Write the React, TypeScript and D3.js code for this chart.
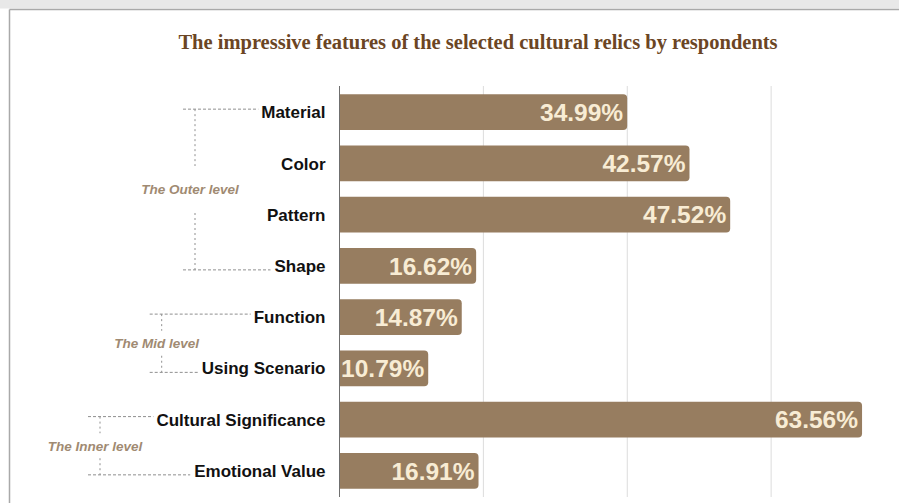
import React from "react";
import * as d3 from "d3";

const categories = [
  "Material",
  "Color",
  "Pattern",
  "Shape",
  "Function",
  "Using Scenario",
  "Cultural Significance",
  "Emotional Value",
];
const values = [34.99, 42.57, 47.52, 16.62, 14.87, 10.79, 63.56, 16.91];
const gridTicks = [17.5, 35, 52.5];
const groupNames = ["The Outer level", "The Mid level", "The Inner level"];
const groupFirst = [0, 4, 6];
const groupLast = [3, 5, 7];
const titleText = "The impressive features of the selected cultural relics by respondents";

// layout (not data)
const W = 899;
const H = 503;
const axisX = 339.5;
const bracketX = [195, 161.7, 100];
const bracketGap = [23.5, 12.5, 12.5];

const LABEL_FONT = "bold 17px 'Liberation Sans', Arial, Helvetica, sans-serif";

function measure(text: string, font: string): number {
  const c = document.createElement("canvas");
  const ctx = c.getContext("2d");
  if (!ctx) return text.length * 9;
  ctx.font = font;
  return ctx.measureText(text).width;
}

function barPath(x0: number, x1: number, y0: number, h: number, r: number) {
  const p = d3.path();
  p.moveTo(x0, y0);
  p.lineTo(x1 - r, y0);
  p.arcTo(x1, y0, x1, y0 + r, r);
  p.lineTo(x1, y0 + h - r);
  p.arcTo(x1, y0 + h, x1 - r, y0 + h, r);
  p.lineTo(x0, y0 + h);
  p.closePath();
  return p.toString();
}

export default function App() {
  const x = d3.scaleLinear().domain([0, 70]).range([axisX, 915]);
  const y = d3
    .scaleBand<string>()
    .domain(categories)
    .range([87.5, 495.5])
    .paddingInner(0.3)
    .paddingOuter(0.131);
  const bw = y.bandwidth();
  const labelRight = axisX - 14;
  const cy = (i: number) => (y(categories[i]) as number) + bw / 2;

  return (
    <svg
      width={W}
      height={H}
      style={{ position: "absolute", left: 0, top: 0, background: "#fff" }}
    >
      <rect x={0} y={0} width={W} height={H} fill="#fff" />
      {/* top band and frame */}
      <rect x={0} y={0} width={W} height={8.5} fill="#e8e8e8" />
      <line x1={9.5} x2={W} y1={9.5} y2={9.5} stroke="#a9a9a9" strokeWidth={1.5} />
      <line x1={9.5} x2={9.5} y1={9.5} y2={H} stroke="#a9a9a9" strokeWidth={1.5} />

      <text
        x={478}
        y={48.5}
        textAnchor="middle"
        fontFamily="'Liberation Serif', 'Times New Roman', serif"
        fontWeight="bold"
        fontSize={20.5}
        fill="#6b4524"
      >
        {titleText}
      </text>

      {/* gridlines */}
      {gridTicks.map((t) => (
        <line
          key={t}
          x1={x(t)}
          x2={x(t)}
          y1={86}
          y2={497}
          stroke="#dcdcdc"
          strokeWidth={1}
        />
      ))}

      {/* bars */}
      {categories.map((c, i) => (
        <path
          key={c}
          d={barPath(x(0), x(values[i]), y(c) as number, bw, 4)}
          fill="#977d60"
        />
      ))}

      {/* axis line */}
      <line x1={axisX} x2={axisX} y1={86} y2={497} stroke="#6f6f6f" strokeWidth={1} />

      {/* value labels */}
      {categories.map((c, i) => (
        <text
          key={c}
          x={x(values[i]) - 4}
          y={cy(i)}
          dy="0.36em"
          textAnchor="end"
          fontFamily="'Liberation Sans', Arial, Helvetica, sans-serif"
          fontWeight="bold"
          fontSize={24.5}
          fill="#f8ecd4"
        >
          {values[i].toFixed(2)}%
        </text>
      ))}

      {/* category labels */}
      {categories.map((c, i) => (
        <text
          key={c}
          x={labelRight}
          y={cy(i)}
          dy="0.36em"
          textAnchor="end"
          fontFamily="'Liberation Sans', Arial, Helvetica, sans-serif"
          fontWeight="bold"
          fontSize={17}
          fill="#111"
        >
          {c}
        </text>
      ))}

      {/* group brackets */}
      {groupNames.map((g, gi) => {
        const bx = bracketX[gi];
        const topY = cy(groupFirst[gi]) - 3;
        const botY = cy(groupLast[gi]) + 4;
        const topEnd = labelRight - measure(categories[groupFirst[gi]], LABEL_FONT) - 3;
        const botEnd = labelRight - measure(categories[groupLast[gi]], LABEL_FONT) - 4;
        const mid = (topY + botY) / 2;
        const gap = bracketGap[gi];
        const dash = { stroke: "#8f8f8f", strokeWidth: 1, fill: "none" };
        return (
          <g key={g}>
            <line x1={bx - 12} x2={topEnd} y1={topY} y2={topY} {...dash} strokeDasharray="3,2" />
            <line x1={bx - 12} x2={botEnd} y1={botY} y2={botY} {...dash} strokeDasharray="3,2" />
            <line x1={bx} x2={bx} y1={topY} y2={mid - gap} {...dash} strokeDasharray="2,3" />
            <line x1={bx} x2={bx} y1={mid + gap} y2={botY} {...dash} strokeDasharray="2,3" />
            <text
              x={bx - 5}
              y={mid}
              dy="0.36em"
              textAnchor="middle"
              fontFamily="'Liberation Sans', Arial, Helvetica, sans-serif"
              fontWeight="bold"
              fontStyle="italic"
              fontSize={13.5}
              fill="#a08a72"
            >
              {g}
            </text>
          </g>
        );
      })}
    </svg>
  );
}
